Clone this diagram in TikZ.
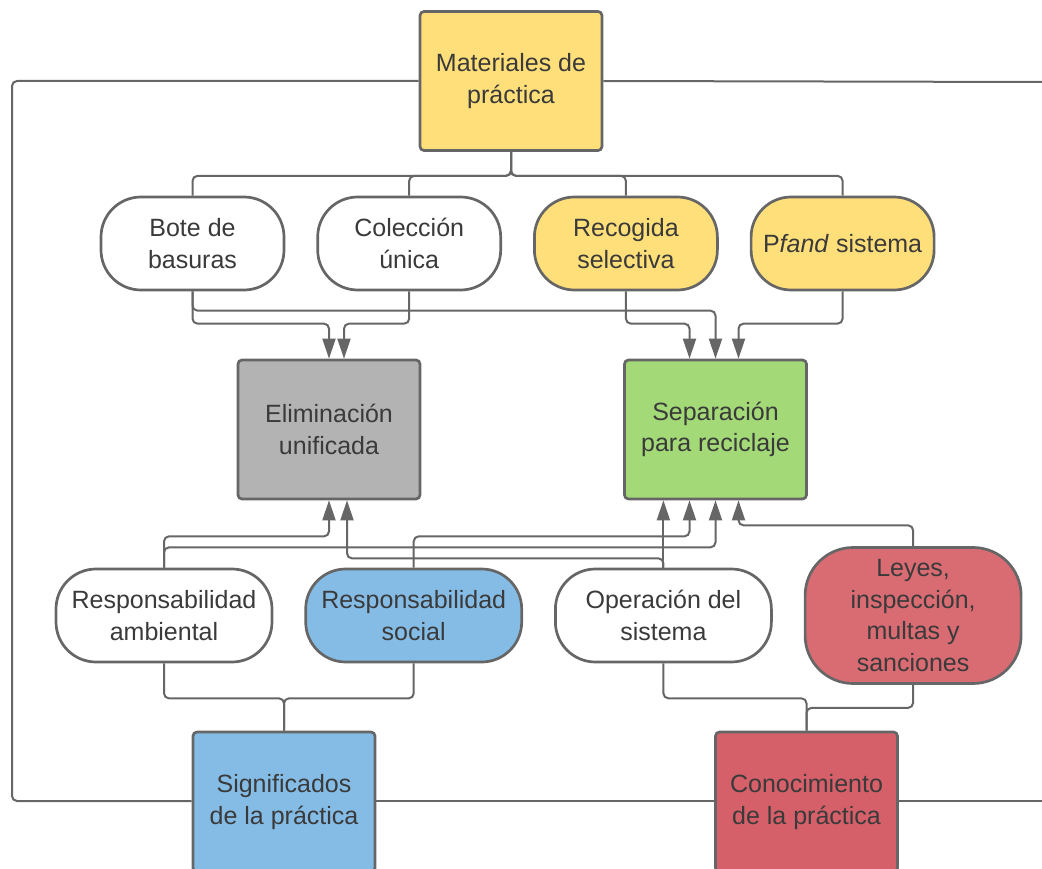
\documentclass[tikz,border=0pt]{standalone}
\usepackage{fontspec}
\setmainfont{Liberation Sans}
\usetikzlibrary{positioning,arrows.meta}
\definecolor{lineclr}{HTML}{666666}
\definecolor{textclr}{HTML}{3A3A3A}
\definecolor{matyellow}{HTML}{FFDF7A}
\definecolor{elimgray}{HTML}{B3B3B3}
\definecolor{sepgreen}{HTML}{A3D977}
\definecolor{sigblue}{HTML}{85BCE6}
\definecolor{leyred}{HTML}{D96B73}
\definecolor{conred}{HTML}{D5606A}
\tikzstyle{box} = [draw=lineclr, line width=2.7pt, rectangle, rounded corners=4pt,
minimum width=182pt, minimum height=139pt, inner sep=0pt, align=center,
text=textclr, font={\fontsize{25}{31.5}\selectfont}]
\tikzstyle{pill} = [box, fill=white, rounded corners=40pt, minimum width=183pt, minimum height=93pt]
\tikzstyle{link} = [draw=lineclr, line width=2pt, rounded corners=5pt]
\tikzstyle{flow} = [link, ->]

\begin{document}
\begin{tikzpicture}[x=1pt, y=-1pt, >={Triangle[length=20pt,width=13pt]}, node distance=31pt]
		\useasboundingbox (0,0) rectangle (1042,869);
		\clip (0,0) rectangle (1042,869);
		\node(materiales)[box, fill=matyellow] at (511,81){Materiales de\\práctica};
		\node(bote)[pill] at (192.5,243.5){Bote de\\basuras};
		\node(coleccion)[pill, right=of bote]{Colección\\única};
		\node(recogida)[pill, fill=matyellow, right=of coleccion]{Recogida\\selectiva};
		\node(pfand)[pill, fill=matyellow, right=of recogida]{P\textit{fand} sistema};
		
		\node(eliminacion)[box, fill=elimgray] at (329,429.5){Eliminación\\unificada};
		\node(separacion)[box, fill=sepgreen] at (715.5,429.5){Separación\\para reciclaje};
		
		\node(ambiental)[pill, minimum width=216pt] at (164,615.5){Responsabilidad\\ambiental};
		\node(social)[pill, fill=sigblue, minimum width=216pt, right=of ambiental]{Responsabilidad\\social};
		\node(operacion)[pill, minimum width=216pt, right=of social]{Operación del\\sistema};
		\node(leyes)[pill, fill=leyred, minimum width=216pt, minimum height=136pt, rounded corners=48pt, right=of operacion]{Leyes,\\inspección,\\multas y\\sanciones};
		
		\node(significados)[box, fill=sigblue, minimum height=140pt] at (284,802){Significados\\de la práctica};
		\node(conocimiento)[box, fill=conred, minimum height=140pt] at (806.5,802){Conocimiento\\de la práctica};
		
		\coordinate(leftturn) at (12,801);
		\coordinate(rightend) at (1042,801);
		\coordinate(topend) at (1042,82);
		
		\draw[link] (materiales.west) -| (leftturn) -- (leftturn -| significados.west);
		\draw[link] (leftturn -| significados.east) -- (leftturn -| conocimiento.west);
		\draw[link] (leftturn -| conocimiento.east) -- (rightend);
		\draw[link] (materiales.east) -- (topend);
		
		\draw[link] (materiales.south) -- ([yshift=-24pt]materiales.south) -| (bote.north);
		\draw[link] (materiales.south) -- ([yshift=-24pt]materiales.south) -| (coleccion.north);
		\draw[link] (materiales.south) -- ([yshift=-24pt]materiales.south) -| (recogida.north);
		\draw[link] (materiales.south) -- ([yshift=-24pt]materiales.south) -| (pfand.north);
		
		\draw[flow] (bote.south) |- ([yshift=35pt]eliminacion.north) -- (eliminacion.north);
		\draw[flow] (bote.south) |- ([yshift=48pt]separacion.north) -- (separacion.north);
		\draw[flow] (coleccion.south) |- ([xshift=15pt,yshift=35pt]eliminacion.north) -- ([xshift=15pt]eliminacion.north);
		\draw[flow] (recogida.south) |- ([xshift=-26pt,yshift=35pt]separacion.north) -- ([xshift=-26pt]separacion.north);
		\draw[flow] (pfand.south) |- ([xshift=23pt,yshift=35pt]separacion.north) -- ([xshift=23pt]separacion.north);
		
		\draw[flow] (ambiental.north) |- ([yshift=-36pt]eliminacion.south) -- (eliminacion.south);
		\draw[flow] (ambiental.north) |- ([yshift=-47pt]separacion.south) -- (separacion.south);
		\draw[flow] (social.north) |- ([xshift=-26pt,yshift=-36pt]separacion.south) -- ([xshift=-26pt]separacion.south);
		\draw[flow] (operacion.north) -- (operacion.north |- separacion.south);
		\draw[flow] (operacion.north) |- ([xshift=18pt,yshift=-58pt]eliminacion.south) -- ([xshift=18pt]eliminacion.south);
		\draw[flow] (leyes.north) |- ([xshift=23pt,yshift=-25pt]separacion.south) -- ([xshift=23pt]separacion.south);
		
		\draw[link] (ambiental.south) -- ([yshift=-35pt]ambiental.south) -| (significados.north);
		\draw[link] (social.south) -- ([yshift=-35pt]social.south) -| (significados.north);
		\draw[link] (operacion.south) -- ([yshift=-35pt]operacion.south) -| (conocimiento.north);
		\draw[link] (leyes.south) -- ([yshift=-23pt]leyes.south) -| (conocimiento.north);
\end{tikzpicture}
\end{document}
